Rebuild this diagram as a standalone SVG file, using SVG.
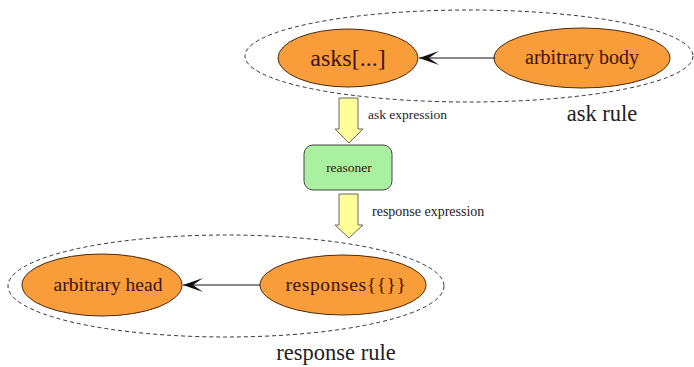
<svg xmlns="http://www.w3.org/2000/svg" width="694" height="367" viewBox="0 0 694 367">
<style>
.grp{fill:none;stroke:#333;stroke-width:1;stroke-dasharray:4,3}
.node{fill:#f99c3a;stroke:#4a2a10;stroke-width:1}
.lbl{font-family:"Liberation Serif","Times New Roman",serif;fill:#3a1408;text-anchor:middle}
.edge{stroke:#111;stroke-width:1;fill:none}
.flow{fill:#ffff99;stroke:#666;stroke-width:1}
.cap{font-family:"Liberation Serif","Times New Roman",serif;fill:#222}
</style>
<defs>
<marker id="vee" viewBox="0 0 20 14" refX="20" refY="7" markerWidth="20" markerHeight="14" markerUnits="userSpaceOnUse" orient="auto">
<path d="M20,7 L0,0 L10,7 L0,14 Z" fill="#111"/>
</marker>
</defs>
<rect width="694" height="367" fill="#fff"/>
<g id="ask-rule-group">
<ellipse class="grp" cx="469" cy="56" rx="224" ry="46"/>
<text class="cap" x="602" y="121" font-size="22.5" text-anchor="middle">ask rule</text>
</g>
<g id="response-rule-group">
<ellipse class="grp" cx="226" cy="286" rx="218" ry="51"/>
<text class="cap" x="336" y="360" font-size="22.5" text-anchor="middle">response rule</text>
</g>
<g id="asks">
<ellipse class="node" cx="348" cy="58" rx="70" ry="29"/>
<text class="lbl" x="348" y="66" font-size="24">asks[...]</text>
</g>
<g id="arbitrary-body">
<ellipse class="node" cx="582" cy="58" rx="88" ry="30"/>
<text class="lbl" x="582" y="64" font-size="20">arbitrary body</text>
</g>
<g id="reasoner">
<rect x="304" y="145" width="88" height="45" rx="9" fill="#a9f0a0" stroke="#444" stroke-width="1"/>
<text class="lbl" x="349" y="172" font-size="13.5">reasoner</text>
</g>
<g id="arbitrary-head">
<ellipse class="node" cx="102" cy="285" rx="80" ry="31"/>
<text class="lbl" x="108" y="291" font-size="19.5">arbitrary head</text>
</g>
<g id="responses">
<ellipse class="node" cx="343" cy="285" rx="83" ry="30"/>
<text class="lbl" x="346" y="291" font-size="19.5" letter-spacing="0.6">responses{{}}</text>
</g>
<g id="connectors">
<line class="edge" x1="495" y1="58" x2="419" y2="58" marker-end="url(#vee)"/>
<line class="edge" x1="260" y1="285" x2="183" y2="285" marker-end="url(#vee)"/>
<path id="flow-ask" class="flow" d="M339,98 H358 V129 H363 L349,143 L335,129 H339 Z"/>
<text class="cap" x="368" y="119" font-size="13.5">ask expression</text>
<path id="flow-response" class="flow" d="M339,194 H358 V225 H363 L349,238 L335,225 H339 Z"/>
<text class="cap" x="372" y="216" font-size="14">response expression</text>
</g>
</svg>
